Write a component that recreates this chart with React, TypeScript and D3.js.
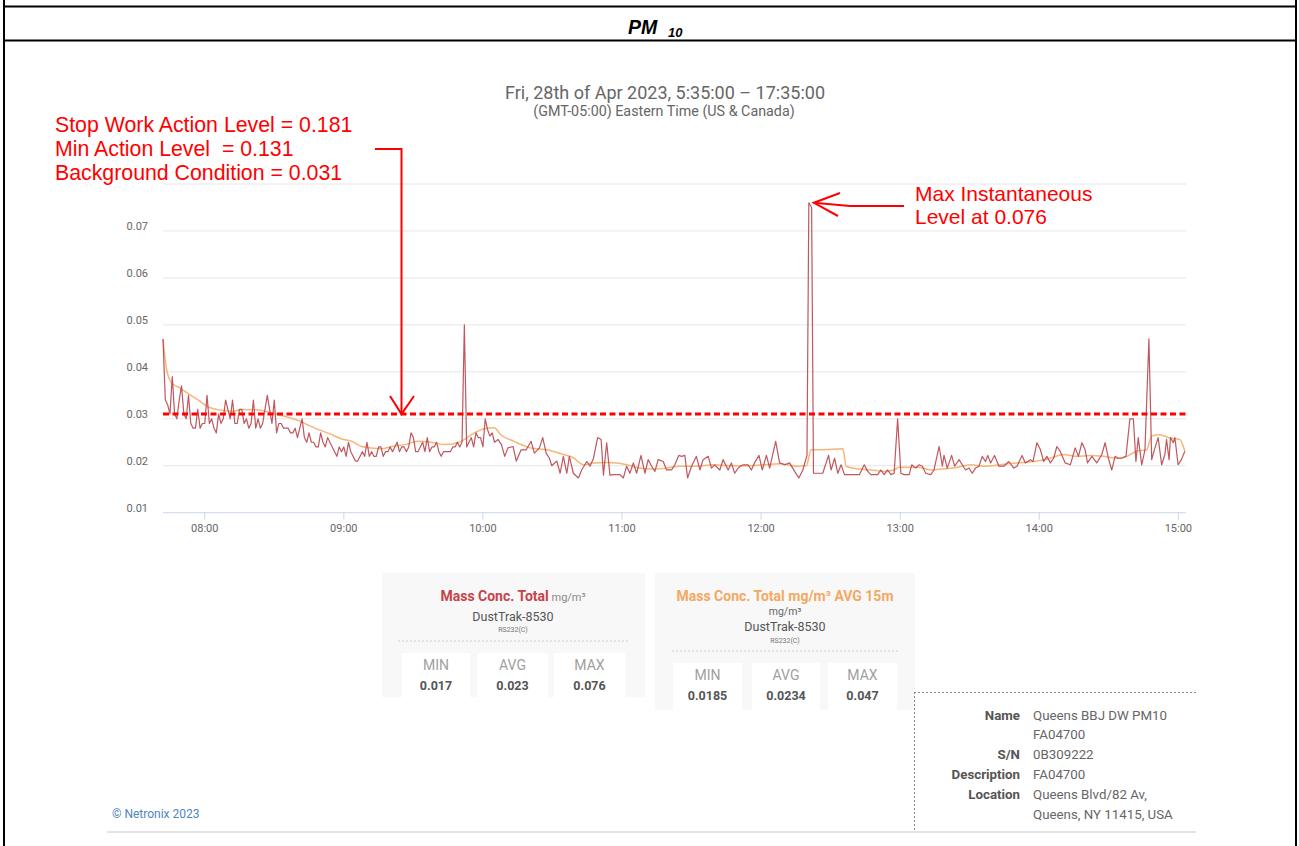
import * as React from "react";
import * as d3 from "d3";

// minutes after 07:42 on 28 Apr 2023, value in mg/m3
const rawSeries: [number, number][] = [
  [0, 0.047], [1, 0.034], [2, 0.033], [3, 0.031], [4, 0.039], [5, 0.031], [6, 0.030], [7, 0.034], [8, 0.037], [9, 0.031],
  [10, 0.030], [11, 0.035], [12, 0.029], [13, 0.028], [14, 0.028], [15, 0.032], [16, 0.028], [17, 0.029], [18, 0.029], [19, 0.035],
  [20, 0.029], [21, 0.030], [22, 0.028], [23, 0.027], [24, 0.031], [25, 0.029], [26, 0.030], [27, 0.034], [28, 0.032], [29, 0.030],
  [30, 0.034], [31, 0.029], [32, 0.029], [33, 0.032], [34, 0.032], [35, 0.029], [36, 0.030], [37, 0.028], [38, 0.029], [39, 0.034],
  [40, 0.028], [41, 0.030], [42, 0.028], [43, 0.029], [44, 0.032], [45, 0.035], [46, 0.032], [47, 0.029], [48, 0.034], [49, 0.027],
  [50, 0.029], [51, 0.029], [52, 0.028], [53, 0.028], [54, 0.028], [55, 0.027], [56, 0.027], [57, 0.028], [58, 0.026], [59, 0.028],
  [60, 0.030], [61, 0.026], [62, 0.025], [63, 0.027], [64, 0.025], [65, 0.025], [66, 0.024], [67, 0.024], [68, 0.027], [69, 0.025],
  [70, 0.024], [71, 0.026], [72, 0.025], [73, 0.024], [74, 0.023], [75, 0.022], [76, 0.024], [77, 0.023], [78, 0.024], [79, 0.022],
  [80, 0.025], [81, 0.023], [82, 0.022], [83, 0.021], [84, 0.021], [85, 0.022], [86, 0.023], [87, 0.022], [88, 0.025], [89, 0.022],
  [90, 0.023], [91, 0.022], [92, 0.022], [93, 0.024], [94, 0.024], [95, 0.022], [96, 0.023], [97, 0.023], [98, 0.024], [99, 0.023],
  [100, 0.024], [101, 0.025], [102, 0.023], [103, 0.024], [104, 0.024], [105, 0.023], [106, 0.024], [107, 0.027], [108, 0.026], [109, 0.023],
  [110, 0.023], [111, 0.024], [112, 0.025], [113, 0.023], [114, 0.026], [115, 0.023], [116, 0.024], [117, 0.024], [118, 0.025], [119, 0.023],
  [120, 0.022], [121, 0.023], [122, 0.023], [123, 0.023], [124, 0.023], [125, 0.024], [126, 0.024], [127, 0.025], [128, 0.024], [129, 0.025],
  [130, 0.050], [131, 0.024], [132, 0.025], [133, 0.026], [134, 0.024], [135, 0.027], [136, 0.026], [137, 0.026], [138, 0.024], [139, 0.030],
  [140, 0.0277], [141, 0.0263], [142, 0.027], [143, 0.025], [144.5, 0.0256], [146, 0.0245], [147.4, 0.022], [148.8, 0.0238], [151, 0.0241], [152.4, 0.021],
  [154.5, 0.0234], [156.7, 0.0234], [158.8, 0.0252], [160.2, 0.0227], [162.4, 0.0238], [163.8, 0.026], [165.3, 0.0227], [166.7, 0.0216], [167.7, 0.020], [169.9, 0.021],
  [171.3, 0.0184], [172.7, 0.022], [174.2, 0.0184], [175.3, 0.022], [177, 0.0184], [179.2, 0.0174], [180.6, 0.0191], [182.8, 0.0209], [184.2, 0.0199], [185.7, 0.0216],
  [187.5, 0.026], [189, 0.0256], [190, 0.018], [191.4, 0.0249], [192.8, 0.018], [194.3, 0.0181], [197.1, 0.0181], [198.6, 0.0174], [200, 0.0199], [201.4, 0.0184],
  [202.9, 0.0206], [204.3, 0.0184], [206.2, 0.0222], [207.9, 0.0184], [209.3, 0.0213], [210.8, 0.0199], [212.2, 0.0188], [213.6, 0.0213], [215.8, 0.0209], [217.2, 0.0191],
  [219.4, 0.0191], [220.8, 0.0202], [222.5, 0.0222], [223.7, 0.022], [225.1, 0.0222], [226.3, 0.0174], [228, 0.0199], [230.1, 0.022], [231.6, 0.0191], [233, 0.0213],
  [235.2, 0.022], [236.6, 0.0195], [238, 0.0202], [240.2, 0.0191], [241.6, 0.0213], [243.8, 0.0191], [245.2, 0.0206], [246.6, 0.0184], [248.1, 0.0195], [250.2, 0.0202],
  [252.4, 0.0202], [253.8, 0.0191], [255.2, 0.0206], [257.1, 0.0222], [258.5, 0.0191], [260.3, 0.0222], [261.7, 0.0195], [264.3, 0.0252], [266, 0.0206], [268.2, 0.0202],
  [270.3, 0.0206], [272.5, 0.0188], [274.3, 0.0174], [276, 0.0191], [277.8, 0.0222], [278.6, 0.076], [279.8, 0.075], [280.6, 0.0184], [283.2, 0.0184], [284.6, 0.0184],
  [287.1, 0.0222], [288.2, 0.0191], [289.7, 0.0216], [291.1, 0.0184], [292.5, 0.0202], [294, 0.0181], [300.4, 0.0181], [302.5, 0.0202], [304, 0.0188], [305.4, 0.0181],
  [308.3, 0.0181], [309.7, 0.0191], [311.1, 0.0181], [312.6, 0.0191], [314, 0.0181], [315.4, 0.0184], [316.9, 0.030], [318.3, 0.0184], [319.7, 0.0181], [321.9, 0.0181],
  [323, 0.0202], [324.7, 0.0195], [326.2, 0.0202], [327.6, 0.0199], [329, 0.0184], [331.2, 0.0181], [332.6, 0.0191], [334.8, 0.0241], [336.2, 0.0199], [336.9, 0.0222],
  [338.3, 0.0195], [340.2, 0.0222], [341.5, 0.0199], [343.4, 0.0213], [344.8, 0.0202], [346.2, 0.0191], [347.7, 0.0195], [349.1, 0.0184], [350.5, 0.0195], [352, 0.0199],
  [353.4, 0.022], [354.8, 0.0209], [355.8, 0.0222], [357, 0.0206], [358.7, 0.0222], [360.6, 0.0199], [362.7, 0.0199], [364.9, 0.0209], [367, 0.0195], [368.4, 0.0199],
  [370.6, 0.0222], [372, 0.0206], [374.2, 0.0213], [375.3, 0.0209], [377, 0.0249], [378.5, 0.0234], [379.9, 0.0209], [381.3, 0.022], [382.8, 0.0206], [384.2, 0.0216],
  [385.6, 0.0241], [387, 0.0231], [389.2, 0.0206], [391.4, 0.0202], [393.5, 0.0238], [394.9, 0.022], [396.4, 0.0249], [397.8, 0.0234], [398.8, 0.0206], [400.7, 0.022],
  [402.8, 0.0206], [405, 0.0224], [406.4, 0.0249], [407.8, 0.0216], [409.3, 0.0191], [410.7, 0.022], [412.1, 0.0216], [413.6, 0.0216], [415.4, 0.022], [417.1, 0.030],
  [418.6, 0.030], [419.7, 0.0209], [420.7, 0.026], [422.2, 0.0202], [423.6, 0.0234], [425.3, 0.047], [426.5, 0.0213], [427.9, 0.0238], [429.3, 0.026], [430.8, 0.0202],
  [432.2, 0.0224], [432.9, 0.0256], [434, 0.0213], [434.6, 0.026], [435.8, 0.0249], [436.5, 0.026], [437.9, 0.0202], [439.3, 0.0213], [440.8, 0.0231],
];

const avgSeries: [number, number][] = [
  [0, 0.047], [1.4, 0.041], [3.6, 0.0377], [7.1, 0.0366], [11.4, 0.0352], [15.7, 0.0338], [20, 0.0324], [24.3, 0.0319], [30, 0.0316], [34.3, 0.032],
  [40, 0.0319], [44.3, 0.0316], [48.6, 0.031], [52.9, 0.0305], [58.6, 0.0296], [62.9, 0.0286], [67.1, 0.0277], [72.9, 0.0266], [77.1, 0.0257], [81.4, 0.0252],
  [85.7, 0.0241], [90, 0.0238], [94.3, 0.0236], [98.6, 0.0241], [104.3, 0.0245], [110, 0.0252], [115.7, 0.025], [121.4, 0.0245], [127.1, 0.0249], [130, 0.0256],
  [134.3, 0.027], [138.6, 0.0279], [142.9, 0.0281], [145.7, 0.0266], [151.4, 0.0252], [158.6, 0.0238], [165.6, 0.0234], [172.7, 0.0224], [177, 0.0217], [181.4, 0.0202],
  [185.7, 0.0206], [191.4, 0.0207], [195.7, 0.0206], [200, 0.0202], [205.7, 0.0195], [211.5, 0.0193], [217.2, 0.0195], [223, 0.0199], [230.1, 0.0199], [237.3, 0.0202],
  [244.5, 0.02], [251.7, 0.02], [258.8, 0.0202], [266, 0.0204], [273.2, 0.0199], [277.5, 0.02], [279.6, 0.0234], [284.7, 0.0234], [293.3, 0.0236], [294.7, 0.0199],
  [300.4, 0.0193], [305.4, 0.0191], [311.1, 0.0188], [315.4, 0.0191], [317.6, 0.0197], [325.5, 0.0197], [331.2, 0.0191], [335.5, 0.0193], [341.2, 0.0195], [348.4, 0.0202],
  [354.1, 0.0199], [361.3, 0.0202], [368.4, 0.0206], [375.6, 0.0209], [382.8, 0.0216], [388.5, 0.0224], [394.2, 0.022], [400, 0.0222], [405.7, 0.022], [411.4, 0.0216],
  [415.7, 0.022], [420, 0.0231], [424.3, 0.0234], [426.5, 0.0263], [430, 0.0266], [434.3, 0.0259], [438.6, 0.0256], [440.8, 0.0231],
];

const yTicks = [0.01, 0.02, 0.03, 0.04, 0.05, 0.06, 0.07, 0.08];
const backgroundLevel = 0.031;
const maxLevel = 0.076;

const levelNotes = [
  "Stop Work Action Level = 0.181",
  "Min Action Level  = 0.131",
  "Background Condition = 0.031",
];
const peakNote = ["Max Instantaneous", "Level at 0.076"];

const statLabels = ["MIN", "AVG", "MAX"];
const rawStats = ["0.017", "0.023", "0.076"];
const avgStats = ["0.0185", "0.0234", "0.047"];

const infoRows: [string, string][] = [
  ["Name", "Queens BBJ DW PM10"],
  ["", "FA04700"],
  ["S/N", "0B309222"],
  ["Description", "FA04700"],
  ["Location", "Queens Blvd/82 Av,"],
  ["", "Queens, NY 11415, USA"],
];

const RAW_COLOR = "#b9444c";
const AVG_COLOR = "#f4a862";
const RED = "#ff0000";
const start = new Date(2023, 3, 28, 7, 42);
const toDate = (m: number) => new Date(start.getTime() + m * 60000);

function StatBox({ x, y, w, h, cells, cellY, children }: any) {
  return (
    <g>
      <rect x={x} y={y} width={w} height={h} fill="#f8f8f8" />
      {children}
      {cells.map((c: any, i: number) => (
        <g key={i}>
          <rect x={c.x} y={cellY} width={c.w} height={y + h - cellY} fill="#ffffff" />
          <text x={c.x + c.w / 2} y={cellY + 17} textAnchor="middle" fontSize={14} fill="#a0a0a0">{statLabels[i]}</text>
          <text x={c.x + c.w / 2} y={cellY + 37} textAnchor="middle" fontSize={12.5} fontWeight="bold" fill="#555">{c.v}</text>
        </g>
      ))}
    </g>
  );
}

export default function App() {
  const x = d3.scaleTime().domain([toDate(0), toDate(441.3)]).range([163, 1186]);
  const y = d3.scaleLinear().domain([0.01, 0.08]).range([512.7, 184]);

  const line = d3.line<[number, number]>()
    .x(d => x(toDate(d[0])))
    .y(d => y(d[1]));
  const avgLine = d3.line<[number, number]>()
    .x(d => x(toDate(d[0])))
    .y(d => y(d[1]))
    .curve(d3.curveMonotoneX);

  const hours = x.ticks(d3.timeHour.every(1) as any);
  const fmt = d3.timeFormat("%H:%M");
  const peak = rawSeries.reduce((a, b) => (b[1] > a[1] ? b : a));
  const px = x(toDate(peak[0]));
  const py = y(maxLevel);
  const bgY = y(backgroundLevel);

  return (
    <div style={{ position: "absolute", left: 0, top: 0 }}>
      <svg width={1299} height={846} style={{ display: "block", fontFamily: "Roboto, sans-serif" }}>
        <rect width={1299} height={846} fill="#fff" />
        {/* table frame */}
        <line x1={4} x2={4} y1={0} y2={846} stroke="#000" strokeWidth={2} />
        <line x1={1296} x2={1296} y1={0} y2={846} stroke="#000" strokeWidth={2} />
        <line x1={3} x2={1297} y1={6.5} y2={6.5} stroke="#000" strokeWidth={2} />
        <line x1={3} x2={1297} y1={40.5} y2={40.5} stroke="#000" strokeWidth={2} />
        <text x={628} y={34} fontFamily="'Liberation Sans', Arial, sans-serif" fontWeight="bold" fontStyle="italic" fontSize={19.5}>
          PM<tspan x={668} fontSize={13} dy={3}>10</tspan>
        </text>

        {/* chart titles */}
        <text x={665} y={99} textAnchor="middle" fontSize={18} fill="#666">Fri, 28th of Apr 2023, 5:35:00 – 17:35:00</text>
        <text x={664} y={116} textAnchor="middle" fontSize={14.3} fill="#666">(GMT-05:00) Eastern Time (US &amp; Canada)</text>

        {/* grid */}
        {yTicks.map(t => (
          <g key={t}>
            {t > 0.01 && <line x1={163} x2={1186} y1={y(t)} y2={y(t)} stroke="#e6e6e6" />}
            {t < 0.08 && (
              <text x={148} y={y(t) - 1} textAnchor="end" fontSize={11} fill="#666">{t.toFixed(2)}</text>
            )}
          </g>
        ))}
        <line x1={163} x2={1186} y1={y(0.01)} y2={y(0.01)} stroke="#ccd6eb" />
        {hours.map(h => (
          <g key={+h}>
            <line x1={x(h)} x2={x(h)} y1={y(0.01)} y2={y(0.01) + 7} stroke="#ccd6eb" />
            <text x={x(h)} y={y(0.01) + 19} textAnchor="middle" fontSize={11} fill="#666">{fmt(h)}</text>
          </g>
        ))}

        {/* series */}
        <path d={avgLine(avgSeries) || ""} fill="none" stroke={AVG_COLOR} strokeWidth={1.5} strokeOpacity={0.85} />
        <path d={line(rawSeries) || ""} fill="none" stroke={RAW_COLOR} strokeWidth={1.2} strokeOpacity={0.9} strokeLinejoin="round" />

        {/* background level */}
        <line x1={163} x2={1186} y1={bgY} y2={bgY} stroke={RED} strokeWidth={3} strokeDasharray="6 3.5" />

        {/* annotations */}
        <g fontFamily="'Liberation Sans', Arial, sans-serif" fill={RED}>
          {levelNotes.map((t, i) => (
            <text key={i} x={55} y={132 + i * 24} fontSize={21.3}>{t.replace(/ {2}/g, " \u00a0")}</text>
          ))}
          {peakNote.map((t, i) => (
            <text key={i} x={915} y={201 + i * 23} fontSize={21}>{t}</text>
          ))}
        </g>
        <g fill="none" stroke={RED} strokeWidth={2}>
          <polyline points={`375,149 401.5,149 401.5,${bgY}`} />
          <polyline points={`390,396 401.5,${bgY} 414,396`} />
          <polyline points={`904,206 850,206 ${px + 5},${py}`} />
          <polyline points={`840,193 ${px + 5},${py} 838,216`} />
        </g>

        {/* stat boxes */}
        <StatBox
          x={382} y={573} w={263} h={124} cellY={653}
          cells={[{ x: 402, w: 68, v: rawStats[0] }, { x: 477, w: 71, v: rawStats[1] }, { x: 554, w: 71, v: rawStats[2] }]}
        >
          <text x={513} y={601} textAnchor="middle">
            <tspan fontSize={14} fontWeight="bold" fill="#c6434b">Mass Conc. Total</tspan>
            <tspan fontSize={11} fill="#888"> mg/m³</tspan>
          </text>
          <text x={513} y={621} textAnchor="middle" fontSize={12.5} fill="#555">DustTrak-8530</text>
          <text x={513} y={632} textAnchor="middle" fontSize={7} fill="#777">RS232(C)</text>
          <line x1={398} x2={630} y1={641} y2={641} stroke="#ccc" strokeDasharray="2 2" />
        </StatBox>
        <StatBox
          x={655} y={573} w={260} h={137} cellY={663}
          cells={[{ x: 673, w: 69, v: avgStats[0] }, { x: 752, w: 68, v: avgStats[1] }, { x: 828, w: 69, v: avgStats[2] }]}
        >
          <text x={785} y={601} textAnchor="middle" fontSize={14} fontWeight="bold" fill={AVG_COLOR}>Mass Conc. Total mg/m³ AVG 15m</text>
          <text x={785} y={615} textAnchor="middle" fontSize={10.5} fill="#666">mg/m³</text>
          <text x={785} y={631} textAnchor="middle" fontSize={12.5} fill="#555">DustTrak-8530</text>
          <text x={785} y={643} textAnchor="middle" fontSize={7} fill="#777">RS232(C)</text>
          <line x1={672} x2={900} y1={651} y2={651} stroke="#ccc" strokeDasharray="2 2" />
        </StatBox>

        {/* device info */}
        <line x1={914.5} x2={914.5} y1={692} y2={830} stroke="#888" strokeDasharray="2 2" />
        <line x1={914} x2={1196} y1={692.5} y2={692.5} stroke="#888" strokeDasharray="2 2" />
        {infoRows.map(([k, v], i) => (
          <g key={i} fontSize={13.3}>
            <text x={1020} y={719.5 + i * 19.8} textAnchor="end" fontWeight="bold" fill="#555">{k}</text>
            <text x={1033} y={719.5 + i * 19.8} fill="#666">{v}</text>
          </g>
        ))}

        <text x={112} y={818} fontSize={12} fill="#4f86c0">© Netronix 2023</text>
        <line x1={107} x2={1196} y1={832} y2={832} stroke="#c8c8c8" />
      </svg>
    </div>
  );
}
